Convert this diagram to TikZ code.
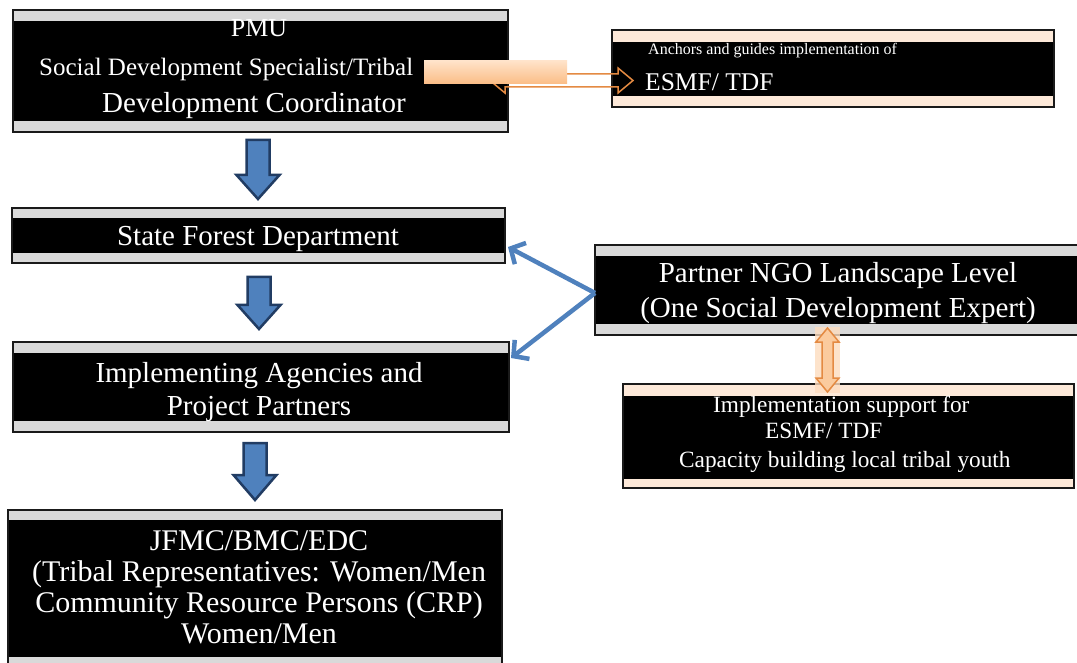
\documentclass[tikz,border=0pt]{standalone}
\usepackage{fontspec}
\setmainfont{Liberation Serif}
\usetikzlibrary{arrows.meta,calc}
\definecolor{stripgray}{HTML}{D9D9D9}
\definecolor{peach}{HTML}{FDE9D9}
\definecolor{boxline}{HTML}{1A1A1A}
\definecolor{blueA}{HTML}{4F81BD}
\definecolor{blueD}{HTML}{213C63}
\definecolor{orangeL}{HTML}{E48A42}
\definecolor{orangeTop}{HTML}{FFE4CB}
\definecolor{orangeBot}{HTML}{FBBE88}
\definecolor{peachbg}{HTML}{FDDCBF}
\definecolor{arrowfill}{HTML}{FBCB9E}
\newcommand\setfs[1]{\fontsize{#1}{#1}\selectfont}
\begin{document}
\begin{tikzpicture}[x=1pt,y=-1pt,
  panel/.style n args={3}{draw=boxline, line width=1.2pt, fill=black, inner sep=0pt, outer sep=0pt, anchor=north west,
    path picture={
      \fill[#1] (path picture bounding box.north west) rectangle ([yshift=-#2]path picture bounding box.north east);
      \fill[#1] (path picture bounding box.south west) rectangle ([yshift=#3]path picture bounding box.south east);
    }},
  txt/.style={text=white, inner sep=0pt, anchor=base},
  txtw/.style={text=white, inner sep=0pt, anchor=base west},
  blockdown/.style={fill=blueA, draw=blueD, line width=2.5pt, line join=miter},
  bluecon/.style={draw=blueA, line width=4.5pt, -{Straight Barb[length=11pt,width=24pt]}},
  orangeout/.style={draw=orangeL, line width=1.5pt, line join=miter},
  orangebar/.style={top color=orangeTop, bottom color=orangeBot, draw=none, inner sep=0pt, anchor=north west},
]
\useasboundingbox (0,0) rectangle (1077,663);
\fill[white] (0,0) rectangle (1077,663);

% boxes
\node[panel={stripgray}{11pt}{11pt}, minimum width=495pt, minimum height=122pt] (pmu) at (13,10) {};
\node[panel={peach}{12pt}{11pt}, minimum width=442pt, minimum height=77pt] (esmf) at (612,30) {};
\node[panel={stripgray}{10pt}{10pt}, minimum width=493pt, minimum height=55pt] (sfd) at (12,208) {};
\node[panel={stripgray}{11pt}{11pt}, minimum width=496pt, minimum height=90pt] (ia) at (13,342) {};
\node[panel={stripgray}{10pt}{10pt}, minimum width=494pt, minimum height=157pt] (jfmc) at (8,510) {};
\node[panel={stripgray}{11pt}{11pt}, minimum width=483pt, minimum height=90pt] (ngo) at (595,245) {};
\node[panel={peach}{12pt}{9pt}, minimum width=451pt, minimum height=104pt] (sup) at (623,384) {};

% texts
\node[txt, font=\setfs{26}] (t1) at (259,37) {PMU};
\node[txtw, font=\setfs{25}] (t2) at (39,76) {Social Development Specialist/Tribal};
\node[txtw, font=\setfs{29}] (t3) at (102,113) {Development Coordinator};
\node[txtw, font=\setfs{16}] (t4) at (648,55) {Anchors and guides implementation of};
\node[txtw, font=\setfs{25.5}] (t5) at (645,91) {ESMF/ TDF};
\node[txt, font=\setfs{29}] (t6) at (258,246) {State Forest Department};
\node[txt, font=\setfs{29}] (t7) at (259,382) {Implementing Agencies and};
\node[txt, font=\setfs{29}] (t8) at (259,415) {Project Partners};
\node[txt, font=\setfs{30}] (t9) at (259,550) {JFMC/BMC/EDC};
\node[txt, font=\setfs{30}] (t10) at (259,581.5) {(Tribal Representatives: Women/Men};
\node[txt, font=\setfs{30}] (t11) at (259,612) {Community Resource Persons (CRP)};
\node[txt, font=\setfs{30}] (t12) at (259,643) {Women/Men};
\node[txt, font=\setfs{29}] (t13) at (838,283) {Partner NGO Landscape Level};
\node[txt, font=\setfs{29}] (t14) at (838,317) {(One Social Development Expert)};
\node[txtw, font=\setfs{23.3}] (t15) at (713,412.5) {Implementation support for};
\node[txtw, font=\setfs{23.3}] (t16) at (765,438) {ESMF/ TDF};
\node[txtw, font=\setfs{23.3}] (t17) at (679,467) {Capacity building local tribal youth};

% blue block arrows (down)
\draw[blockdown] (258-11.5,140) -- (258+11.5,140) -- (258+11.5,175) -- (258+21.5,175) -- (258,199) -- (258-21.5,175) -- (258-11.5,175) -- cycle;
\draw[blockdown] (259-11.5,277) -- (259+11.5,277) -- (259+11.5,305) -- (259+21.5,305) -- (259,329) -- (259-21.5,305) -- (259-11.5,305) -- cycle;
\draw[blockdown] (255-11.5,443) -- (255+11.5,443) -- (255+11.5,475) -- (255+21.5,475) -- (255,500) -- (255-21.5,475) -- (255-11.5,475) -- cycle;

% blue connectors from NGO box
\coordinate (apex) at ([yshift=-3pt]ngo.west);
\coordinate (sfend) at (508,247);
\coordinate (iaend) at (511,358);
\draw[bluecon] (apex) -- (sfend);
\draw[bluecon] (apex) -- (iaend);

% orange horizontal double arrow (outline)
\coordinate (hl) at (490,80.5);
\coordinate (hr) at (633,80.5);
\draw[orangeout] (hl) -- ($(hl)+(15,-12.5)$) -- ($(hl)+(15,-6.5)$) -- ($(hr)+(-15,-6.5)$) -- ($(hr)+(-15,-12.5)$) -- (hr)
  -- ($(hr)+(-15,12.5)$) -- ($(hr)+(-15,6.5)$) -- ($(hl)+(15,6.5)$) -- ($(hl)+(15,12.5)$) -- cycle;
\node[orangebar, minimum width=143pt, minimum height=23pt] (obar) at (424,60) {};

% orange vertical double arrow
\fill[peachbg, opacity=.8] (815,327) rectangle (840,393);
\coordinate (vt) at (827.5,328);
\coordinate (vb) at (827.5,392);
\draw[orangeout, fill=arrowfill] (vt) -- ($(vt)+(11.5,14)$) -- ($(vt)+(5.5,14)$) -- ($(vb)+(5.5,-14)$) -- ($(vb)+(11.5,-14)$) -- (vb)
  -- ($(vb)+(-11.5,-14)$) -- ($(vb)+(-5.5,-14)$) -- ($(vt)+(-5.5,14)$) -- ($(vt)+(-11.5,14)$) -- cycle;
\end{tikzpicture}
\end{document}
